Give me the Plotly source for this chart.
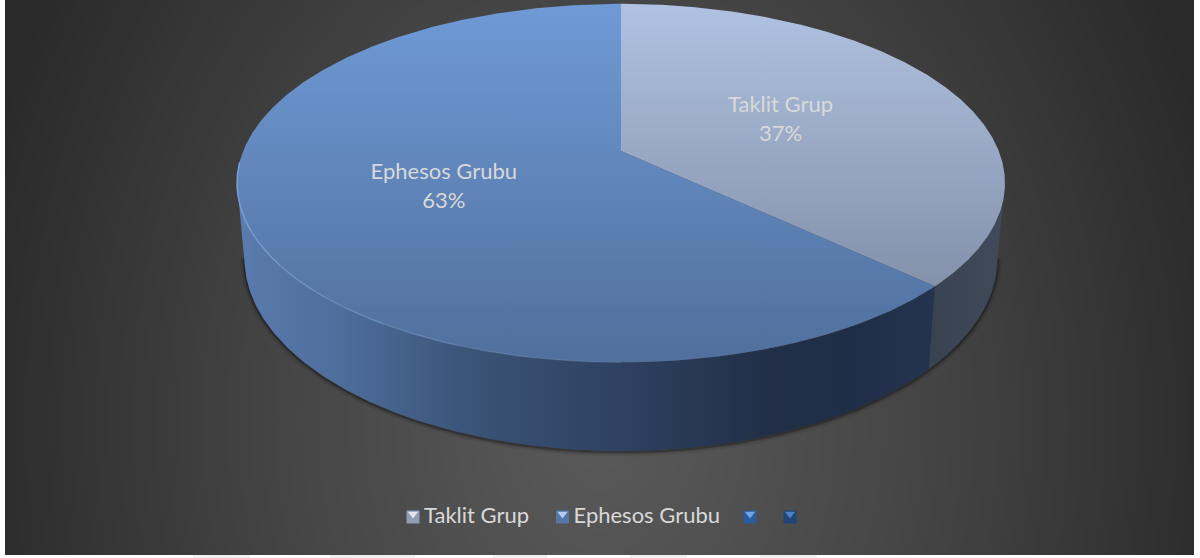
import numpy as np
import plotly.graph_objects as go

# Values
CATEGORIES = ["Taklit Grup", "Ephesos Grubu"]
SHARES = [37, 63]
LEGEND_LABELS = ["Taklit Grup", "Ephesos Grubu", "", ""]

# Panel and pie geometry, in image pixels
PANEL = (5, 1194, 0, 555)
APEX_X, APEX_Y = 621, 151
RADIUS_X, RADIUS_Y, TILT = 377.8, 173.5, 0.179
BASE_APEX_Y, BASE_RADIUS_X, BASE_RADIUS_Y = 223.5, 370.5, 186.8
LABEL_RADIUS = 0.485
LABEL_NUDGE = (-3, 2.5)
FONT = "Lato, Carlito, sans-serif"

TOP_COLORS = [("#b0c2e2", "#8391aa"), ("#6f9ad6", "#506f9c")]
WALL_COLORS = [
    [[0, "#39424f"], [1, "#404a5b"]],
    [[0, "#5a7cae"], [0.15, "#4d6d9b"], [0.34, "#3a5376"], [0.54, "#2e4263"],
     [0.77, "#212e46"], [0.88, "#1f2d47"], [1, "#243450"]],
]
LEGEND_X = [413, 562.5, 750, 790]
LEGEND_Y = 517
LEGEND_COLORS = [("#8f9cb4", "#dfe6f2"), ("#5577a8", "#b4cdf0"), ("#2a5c9e", "#6ea6e6"), ("#1f4478", "#4f82c0")]
STRIP_PATCHES = [(193, 250), (330, 415), (493, 547), (630, 687), (760, 817)]


def project(turn, r=1.0, base=False):
    # turn is a fraction of the circle, clockwise from twelve o'clock
    u = r * np.sin(2 * np.pi * np.asarray(turn))
    v = -r * np.cos(2 * np.pi * np.asarray(turn))
    d = 1 - TILT * v
    if base:
        return APEX_X + BASE_RADIUS_X * u / d, BASE_APEX_Y + BASE_RADIUS_Y * v / d
    return APEX_X + RADIUS_X * u / d, APEX_Y + RADIUS_Y * v / d


fig = go.Figure()

# Radial backdrop
grid_x = np.linspace(PANEL[0], PANEL[1], 90)
grid_y = np.linspace(PANEL[2], PANEL[3], 50)
gx, gy = np.meshgrid(grid_x, grid_y)
glow = np.clip(np.sqrt(((gx - 600) / 640) ** 2 + ((gy - 420) / 850) ** 2), 0, 1)
fig.add_trace(go.Heatmap(
    x=grid_x, y=grid_y, z=glow, zmin=0, zmax=1, zsmooth="best", showscale=False, hoverinfo="skip",
    colorscale=[[0, "#5a5a5a"], [0.5, "#454545"], [1, "#2a2a2a"]],
))

fractions = np.cumsum([0] + SHARES) / sum(SHARES)
front = (0.278, 0.722)  # wall is hidden outside this part of the circle

# Soft shadow below the wall
sx, sy = project(np.linspace(front[0], front[1], 300), base=True)
for width, alpha in [(9, 0.07), (5, 0.12), (2.5, 0.22)]:
    fig.add_trace(go.Scatter(x=sx, y=sy + 1, mode="lines", hoverinfo="skip", line=dict(color=f"rgba(0,0,0,{alpha})", width=width)))

# Walls, then top faces
for i in range(len(SHARES)):
    start, stop = max(fractions[i], front[0]), min(fractions[i + 1], front[1])
    turns = np.linspace(start, stop, 200)
    tx, ty = project(turns)
    bx, by = project(turns[::-1], base=True)
    fig.add_trace(go.Scatter(
        x=np.r_[tx, bx], y=np.r_[ty, by], mode="lines", fill="toself", hoverinfo="skip",
        line=dict(width=0),
        fillgradient=dict(type="horizontal", colorscale=WALL_COLORS[i], start=min(np.r_[tx, bx]), stop=max(np.r_[tx, bx])),
    ))

for i, name in enumerate(CATEGORIES):
    turns = np.linspace(fractions[i], fractions[i + 1], 400)
    ax, ay = project(turns)
    px, py = project(0, 0)
    x = np.r_[px, ax, px]
    y = np.r_[py, ay, py]
    fig.add_trace(go.Scatter(
        x=x, y=y, mode="lines", fill="toself", name=name, hoverinfo="name",
        line=dict(width=0),
        fillgradient=dict(type="vertical", colorscale=[[0, TOP_COLORS[i][0]], [1, TOP_COLORS[i][1]]], start=min(y), stop=max(y)),
    ))

# Light rim on the lower left of the top face, fading towards the front
edges = np.linspace(0.74, 0.5, 9)
for j in range(len(edges) - 1):
    rx, ry = project(np.linspace(edges[j], edges[j + 1], 30))
    fig.add_trace(go.Scatter(x=rx, y=ry, mode="lines", hoverinfo="skip",
                             line=dict(color=f"rgba(135,175,230,{0.8 - j * 0.09:.2f})", width=1.5)))

# Slice labels
mids = (fractions[:-1] + fractions[1:]) / 2
lx, ly = project(mids, LABEL_RADIUS)
fig.add_trace(go.Scatter(
    x=lx + LABEL_NUDGE[0], y=ly + LABEL_NUDGE[1], mode="text", hoverinfo="skip",
    text=[f"{n}<br>{s}%" for n, s in zip(CATEGORIES, SHARES)],
    textfont=dict(family=FONT, size=22, color="#d9d9d9"),
))

# Legend drawn by hand so the bevelled keys can be matched
for x0, label, (body, flap) in zip(LEGEND_X, LEGEND_LABELS, LEGEND_COLORS):
    fig.add_trace(go.Scatter(x=[x0], y=[LEGEND_Y], mode="markers", hoverinfo="skip",
                             marker=dict(symbol="square", size=13, color=body, line=dict(width=0))))
    fig.add_trace(go.Scatter(x=[x0], y=[LEGEND_Y - 3], mode="markers", hoverinfo="skip",
                             marker=dict(symbol="triangle-down", size=9, color=flap, line=dict(width=0))))
    if label:
        fig.add_trace(go.Scatter(x=[x0 + 11], y=[LEGEND_Y], mode="text", hoverinfo="skip", text=[label],
                                 textposition="middle right",
                                 textfont=dict(family=FONT, size=22, color="#d9d9d9")))

# White page edges around the panel, with the faint patches in the bottom strip
margins = [(0, PANEL[0], 0, 558, "#ffffff"), (PANEL[1], 1200, 0, 558, "#ffffff"), (0, 1200, PANEL[3], 558, "#ffffff")]
margins += [(a, b, PANEL[3], 558, "#f0f0f0") for a, b in STRIP_PATCHES]
shapes = [dict(type="rect", xref="x", yref="y", x0=a, x1=b, y0=c, y1=d, fillcolor=col, line=dict(width=0), layer="above")
          for a, b, c, d, col in margins]

fig.update_layout(
    width=1200, height=558, margin=dict(l=0, r=0, t=0, b=0),
    paper_bgcolor="#ffffff", plot_bgcolor="#ffffff", showlegend=False,
    font=dict(family=FONT), shapes=shapes,
)
fig.update_xaxes(range=[0, 1200], visible=False, fixedrange=True)
fig.update_yaxes(range=[558, 0], visible=False, fixedrange=True)

fig.write_html("out.html", config={"displayModeBar": False},
               post_script="document.body.style.margin='0';document.body.style.overflow='hidden';")
